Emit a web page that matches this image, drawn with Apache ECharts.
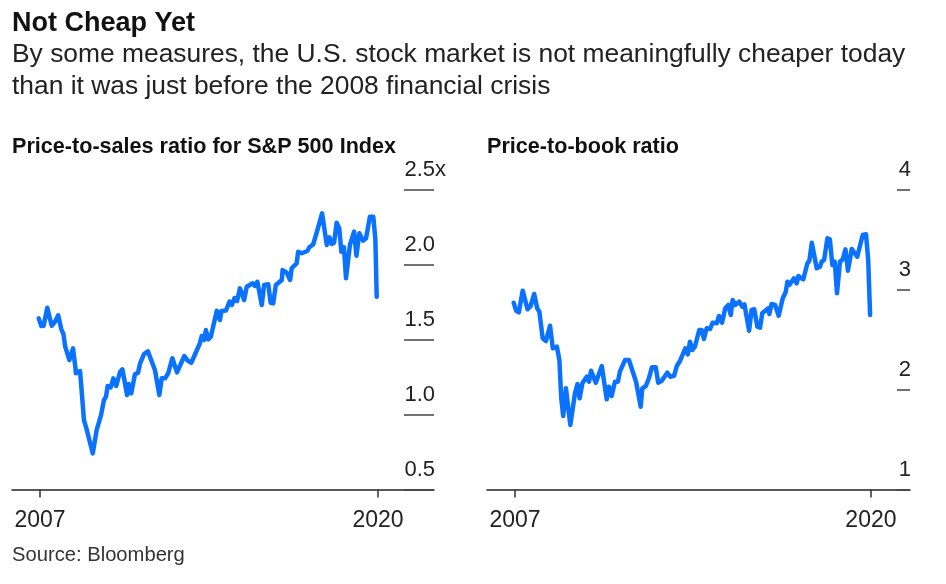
<!DOCTYPE html>
<html>
<head>
<meta charset="utf-8">
<title>Not Cheap Yet</title>
<script src="https://cdn.jsdelivr.net/npm/echarts@6/dist/echarts.min.js"></script>
<style>
html, body { margin: 0; padding: 0; background: #fff; }
#chart { width: 946px; height: 584px; }
</style>
</head>
<body>
<div id="chart"></div>
<script>
// price-to-sales
var salesYears = [2006.95,2007.05,2007.14,2007.28,2007.45,2007.58,2007.70,2007.82,2007.90,2007.97,2008.13,2008.27,2008.36,2008.38,2008.54,2008.60,2008.69,2008.80,2008.87,2009.03,2009.18,2009.35,2009.46,2009.54,2009.60,2009.72,2009.82,2009.93,2010.08,2010.17,2010.35,2010.41,2010.51,2010.65,2010.77,2010.85,2011.00,2011.15,2011.42,2011.59,2011.68,2011.81,2011.93,2012.09,2012.15,2012.27,2012.55,2012.68,2012.82,2013.15,2013.22,2013.31,2013.38,2013.47,2013.57,2013.80,2013.92,2013.98,2014.15,2014.29,2014.38,2014.48,2014.58,2014.69,2014.85,2014.95,2015.18,2015.26,2015.36,2015.53,2015.62,2015.78,2015.87,2015.97,2016.07,2016.30,2016.33,2016.49,2016.62,2016.68,2016.87,2016.93,2017.07,2017.28,2017.36,2017.51,2017.67,2017.73,2017.85,2018.03,2018.13,2018.22,2018.31,2018.41,2018.51,2018.59,2018.69,2018.77,2018.92,2018.99,2019.08,2019.17,2019.28,2019.33,2019.43,2019.54,2019.69,2019.82,2019.90,2019.95];
var salesValues = [1.641,1.59,1.592,1.712,1.592,1.619,1.661,1.568,1.537,1.452,1.363,1.441,1.315,1.275,1.29,1.163,0.963,0.897,0.908,0.741,0.897,0.997,1.097,1.119,1.19,1.181,1.241,1.19,1.285,1.301,1.13,1.203,1.141,1.268,1.279,1.341,1.403,1.421,1.297,1.13,1.241,1.241,1.275,1.375,1.363,1.281,1.39,1.359,1.345,1.475,1.523,1.497,1.563,1.501,1.519,1.692,1.63,1.69,1.693,1.752,1.73,1.777,1.757,1.841,1.763,1.852,1.875,1.857,1.885,1.73,1.863,1.868,1.745,1.741,1.863,1.897,1.963,1.945,1.897,1.975,2.008,2.085,2.075,2.09,2.115,2.135,2.23,2.23,2.341,2.13,2.181,2.137,2.145,2.279,2.241,2.085,2.115,1.908,2.13,2.141,2.219,2.059,2.208,2.203,2.159,2.175,2.319,2.319,2.163,1.785];

// price-to-book, right panel
var bookYears = [2006.95,2007.04,2007.14,2007.28,2007.46,2007.57,2007.70,2007.81,2007.89,2008.01,2008.13,2008.28,2008.38,2008.53,2008.62,2008.69,2008.76,2008.86,2009.02,2009.19,2009.28,2009.36,2009.46,2009.62,2009.70,2009.78,2009.95,2010.17,2010.35,2010.43,2010.53,2010.65,2010.76,2010.83,2011.02,2011.16,2011.32,2011.42,2011.59,2011.65,2011.78,2011.89,2012.00,2012.14,2012.23,2012.36,2012.56,2012.67,2012.81,2012.91,2013.03,2013.22,2013.31,2013.39,2013.48,2013.57,2013.73,2013.82,2013.90,2014.00,2014.12,2014.22,2014.37,2014.45,2014.56,2014.68,2014.79,2014.88,2014.95,2015.04,2015.19,2015.30,2015.38,2015.55,2015.64,2015.74,2015.85,2015.95,2016.03,2016.25,2016.29,2016.37,2016.50,2016.63,2016.78,2016.89,2016.95,2017.02,2017.19,2017.29,2017.35,2017.45,2017.53,2017.68,2017.75,2017.84,2018.02,2018.14,2018.20,2018.29,2018.41,2018.50,2018.59,2018.68,2018.76,2018.87,2018.97,2019.07,2019.16,2019.30,2019.37,2019.50,2019.70,2019.82,2019.90,2019.97];
var bookValues = [2.868,2.788,2.772,2.988,2.802,2.835,2.955,2.812,2.778,2.512,2.485,2.638,2.412,2.428,2.295,1.912,1.735,2.012,1.645,1.962,2.055,1.912,2.062,2.128,2.078,2.188,2.068,2.235,1.902,2.028,1.935,2.078,2.078,2.178,2.295,2.295,2.162,2.078,1.828,2.012,2.035,2.112,2.222,2.222,2.068,2.088,2.168,2.128,2.138,2.235,2.288,2.412,2.352,2.478,2.395,2.428,2.595,2.595,2.505,2.612,2.605,2.668,2.662,2.735,2.668,2.812,2.845,2.745,2.895,2.845,2.878,2.828,2.852,2.588,2.795,2.802,2.628,2.618,2.762,2.812,2.755,2.855,2.845,2.738,2.912,2.978,3.078,3.045,3.112,3.062,3.135,3.112,3.102,3.262,3.285,3.468,3.212,3.228,3.278,3.295,3.512,3.502,3.245,3.278,2.962,3.278,3.302,3.402,3.188,3.405,3.405,3.328,3.545,3.552,3.295,2.745];

var yearTicks = [2007, 2020];
var salesTicks = [0.5, 1.0, 1.5, 2.0, 2.5];
var bookTicks = [1, 2, 3, 4];

var FONT = '"Liberation Sans", Arial, sans-serif';
var BLUE = '#0a72ff';

function toPairs(xs, ys) {
    return xs.map(function (x, i) { return [x, ys[i]]; });
}

function xAxisFor(index, min, max) {
    return {
        type: 'value',
        gridIndex: index,
        min: min,
        max: max,
        splitLine: { show: false },
        axisLine: { onZero: false, lineStyle: { color: '#222', width: 1.5 } },
        axisTick: { customValues: yearTicks, length: 8, lineStyle: { color: '#333', width: 1.5 } },
        axisLabel: {
            customValues: yearTicks,
            formatter: function (v) { return String(v); },
            color: '#222',
            fontFamily: FONT,
            fontSize: 23,
            margin: 20,
            showMinLabel: true,
            showMaxLabel: true
        }
    };
}

function yAxisFor(index, min, max, ticks, digits, tickLen) {
    return {
        type: 'value',
        gridIndex: index,
        position: 'right',
        min: min,
        max: max,
        interval: ticks[1] - ticks[0],
        splitLine: { show: false },
        axisLine: { show: false },
        axisTick: { show: true, inside: true, length: tickLen, lineStyle: { color: '#444', width: 1.5 } },
        axisLabel: {
            inside: true,
            margin: -1,
            align: 'right',
            verticalAlign: 'bottom',
            lineHeight: 39,
            formatter: function (v) { return v.toFixed(digits); },
            color: '#222',
            fontFamily: FONT,
            fontSize: 22
        }
    };
}

var option = {
    animation: false,
    backgroundColor: '#fff',
    title: [
        { text: 'Not Cheap Yet', left: 12, top: 10, padding: 0, textStyle: { fontFamily: FONT, fontSize: 27, fontWeight: 'bold', color: '#111' } },
        { text: 'By some measures, the U.S. stock market is not meaningfully cheaper today\nthan it was just before the 2008 financial crisis', left: 12, top: 39, padding: 0, textStyle: { fontFamily: FONT, fontSize: 26.4, fontWeight: 'normal', color: '#222', lineHeight: 32 } },
        { text: 'Price-to-sales ratio for S&P 500 Index', left: 12, top: 136, padding: 0, textStyle: { fontFamily: FONT, fontSize: 21.6, fontWeight: 'bold', color: '#111' } },
        { text: 'Price-to-book ratio', left: 487, top: 136, padding: 0, textStyle: { fontFamily: FONT, fontSize: 21.6, fontWeight: 'bold', color: '#111' } },
        { text: 'Source: Bloomberg', left: 12, top: 545, padding: 0, textStyle: { fontFamily: FONT, fontSize: 20.2, fontWeight: 'normal', color: '#333' } }
    ],
    graphic: [
        { type: 'text', left: 435, top: 159, style: { text: 'x', font: '22px ' + FONT, fill: '#222' } }
    ],
    grid: [
        { left: 12, width: 422, top: 189.5, height: 300 },
        { left: 487, width: 423, top: 189.5, height: 300 }
    ],
    xAxis: [
        xAxisFor(0, 2005.923, 2022.154),
        xAxisFor(1, 2005.977, 2021.427)
    ],
    yAxis: [
        yAxisFor(0, 0.5, 2.5, salesTicks, 1, 30),
        yAxisFor(1, 1, 4, bookTicks, 0, 13)
    ],
    series: [
        { name: 'Price-to-sales', type: 'line', xAxisIndex: 0, yAxisIndex: 0, data: toPairs(salesYears, salesValues), showSymbol: false, lineStyle: { color: BLUE, width: 4.5, join: 'round', cap: 'round' } },
        { name: 'Price-to-book', type: 'line', xAxisIndex: 1, yAxisIndex: 1, data: toPairs(bookYears, bookValues), showSymbol: false, lineStyle: { color: BLUE, width: 4.5, join: 'round', cap: 'round' } }
    ]
};

var box = echarts.init(document.getElementById('chart'), null, { renderer: 'canvas' });
box.setOption(option);
</script>
</body>
</html>
